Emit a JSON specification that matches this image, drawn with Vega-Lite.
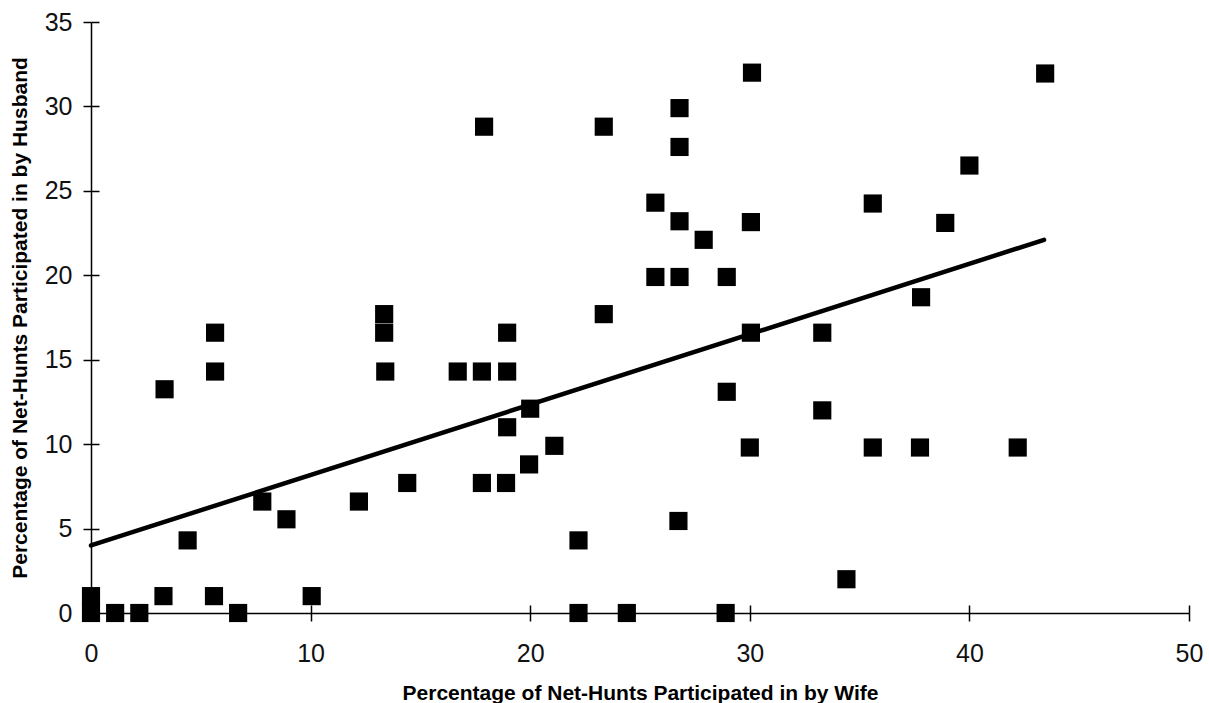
{
  "$schema": "https://vega.github.io/schema/vega-lite/v6.json",
  "width": 1098,
  "height": 591,
  "autosize": {"type": "none"},
  "padding": {"left": 91, "top": 22, "right": 20, "bottom": 90},
  "background": "white",
  "config": {
    "view": {"stroke": null},
    "axis": {
      "grid": false,
      "labelFlush": false,
      "labelOverlap": false,
      "domainColor": "#000",
      "domainWidth": 1.5,
      "tickColor": "#000",
      "tickWidth": 1.5,
      "tickSize": 8,
      "labelFont": "Liberation Sans",
      "labelFontSize": 25,
      "labelColor": "#111",
      "titleFont": "Liberation Sans",
      "titleFontWeight": "bold",
      "titleFontSize": 21,
      "titleColor": "#000"
    }
  },
  "datasets": {
    "points": [
      {"wife": 0, "husband": 0},
      {"wife": 0, "husband": 1.0},
      {"wife": 1.1, "husband": 0},
      {"wife": 2.2, "husband": 0},
      {"wife": 3.3, "husband": 1.0},
      {"wife": 3.35, "husband": 13.25},
      {"wife": 4.4, "husband": 4.3},
      {"wife": 5.6, "husband": 1.0},
      {"wife": 5.65, "husband": 14.3},
      {"wife": 5.65, "husband": 16.6},
      {"wife": 6.7, "husband": 0},
      {"wife": 7.8, "husband": 6.6},
      {"wife": 8.9, "husband": 5.55},
      {"wife": 10.05, "husband": 1.0},
      {"wife": 12.2, "husband": 6.6},
      {"wife": 13.4, "husband": 14.3},
      {"wife": 13.35, "husband": 16.6},
      {"wife": 13.35, "husband": 17.7},
      {"wife": 14.4, "husband": 7.7},
      {"wife": 16.7, "husband": 14.3},
      {"wife": 17.8, "husband": 14.3},
      {"wife": 17.8, "husband": 7.7},
      {"wife": 17.9, "husband": 28.8},
      {"wife": 18.95, "husband": 14.3},
      {"wife": 18.95, "husband": 16.6},
      {"wife": 18.95, "husband": 11.0},
      {"wife": 18.9, "husband": 7.7},
      {"wife": 20.0, "husband": 12.1},
      {"wife": 19.95, "husband": 8.8},
      {"wife": 21.1, "husband": 9.9},
      {"wife": 22.2, "husband": 4.3},
      {"wife": 22.2, "husband": 0},
      {"wife": 23.35, "husband": 28.8},
      {"wife": 23.35, "husband": 17.7},
      {"wife": 24.4, "husband": 0},
      {"wife": 25.7, "husband": 24.3},
      {"wife": 25.7, "husband": 19.9},
      {"wife": 26.8, "husband": 29.9},
      {"wife": 26.8, "husband": 27.6},
      {"wife": 26.8, "husband": 23.2},
      {"wife": 26.8, "husband": 19.9},
      {"wife": 26.75, "husband": 5.45},
      {"wife": 27.9, "husband": 22.1},
      {"wife": 28.95, "husband": 19.9},
      {"wife": 28.95, "husband": 13.1},
      {"wife": 28.9, "husband": 0},
      {"wife": 30.1, "husband": 32.0},
      {"wife": 30.05, "husband": 23.15},
      {"wife": 30.05, "husband": 16.6},
      {"wife": 30.0, "husband": 9.8},
      {"wife": 33.3, "husband": 16.6},
      {"wife": 33.3, "husband": 12.0},
      {"wife": 34.4, "husband": 2.0},
      {"wife": 35.6, "husband": 24.25},
      {"wife": 35.6, "husband": 9.8},
      {"wife": 37.8, "husband": 18.7},
      {"wife": 37.75, "husband": 9.8},
      {"wife": 38.9, "husband": 23.1},
      {"wife": 40.0, "husband": 26.5},
      {"wife": 42.2, "husband": 9.8},
      {"wife": 43.45, "husband": 31.95}
    ],
    "fit": [
      {"wife": 0, "husband": 4.0},
      {"wife": 43.4, "husband": 22.1}
    ]
  },
  "resolve": {"axis": {"x": "independent", "y": "independent"}},
  "layer": [
    {
      "data": {"name": "points"},
      "mark": {"type": "point", "shape": "square", "filled": true, "size": 330, "color": "#000", "opacity": 1},
      "encoding": {
        "x": {
          "field": "wife",
          "type": "quantitative",
          "scale": {"domain": [0, 50], "nice": false},
          "axis": {
            "orient": "bottom",
            "title": "Percentage of Net-Hunts Participated in by Wife",
            "values": [0, 10, 20, 30, 40, 50],
            "labelPadding": 20,
            "titlePadding": 16
          }
        },
        "y": {
          "field": "husband",
          "type": "quantitative",
          "scale": {"domain": [0, 35], "nice": false},
          "axis": {
            "orient": "left",
            "title": "Percentage of Net-Hunts Participated in by Husband",
            "values": [0, 5, 10, 15, 20, 25, 30, 35],
            "labelPadding": 11,
            "titlePadding": 14
          }
        }
      }
    },
    {
      "data": {"name": "fit"},
      "mark": {"type": "line", "color": "#000", "strokeWidth": 4.5, "strokeCap": "round"},
      "encoding": {
        "x": {
          "field": "wife",
          "type": "quantitative",
          "axis": {
            "orient": "bottom",
            "title": null,
            "labels": false,
            "domain": false,
            "tickSize": -8,
            "values": [0, 10, 20, 30, 40, 50]
          }
        },
        "y": {
          "field": "husband",
          "type": "quantitative",
          "axis": {
            "orient": "left",
            "title": null,
            "labels": false,
            "domain": false,
            "tickSize": -8,
            "values": [0, 5, 10, 15, 20, 25, 30, 35]
          }
        }
      }
    }
  ]
}
